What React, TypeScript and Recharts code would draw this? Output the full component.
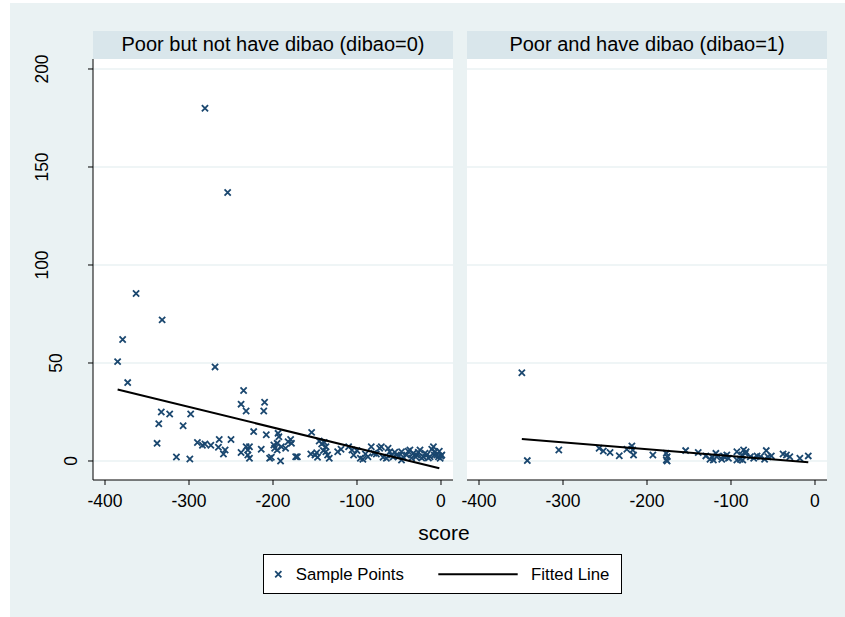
import { ScatterChart, Scatter, XAxis, YAxis, CartesianGrid } from "recharts";

const FONT = '"Liberation Sans", Arial, Helvetica, sans-serif';
const NAVY = "#1a476f";
const BG = "#eaf2f3";
const STRIP = "#d9e6eb";

const panelTitles = ["Poor but not have dibao (dibao=0)", "Poor and have dibao (dibao=1)"];
const legendLabels = ["Sample Points", "Fitted Line"];
const xTitle = "score";

const xTicks = [-400, -300, -200, -100, 0];
const yTicks = [0, 50, 100, 150, 200];
const xDomain = [-414.3, 14.3];
const yDomain = [-9.7, 205.1];

// dibao = 0
const leftScore = [
  -281, -254, -363, -332, -379, -385, -373, -269, -235, -238, -232, -210, -211,
  -333, -323, -298, -336, -307, -223, -208, -338, -315, -299, -290, -284, -281,
  -274, -264, -265, -257, -259, -250, -238, -232, -230, -228, -230, -228, -214,
  -204, -202, -191, -194, -193, -195, -199, -198, -195, -190, -185, -182, -179,
  -178, -173, -171, -154, -155, -150, -147, -148, -145, -142, -139, -137, -140,
  -137, -135, -133, -123, -119, -110, -106, -104, -100, -96, -93, -90, -87, -83,
  -80, -77, -73, -71, -69, -65, -63, -61, -59, -57, -55, -53, -50, -47, -47, -45,
  -41, -39, -37, -35, -33, -30, -29, -27, -25, -23, -21, -19, -17, -15, -13, -11,
  -9, -8, -7, -5, -3, -2, -1, 1, 0,
];
const leftOutcome = [
  180, 137, 85.5, 72, 62, 50.7, 40, 48, 36, 29, 25.5, 30, 25.5,
  25, 24, 24, 19, 18, 15, 13.4, 9, 2, 1, 9.4, 8, 8.7,
  8, 11, 7, 5.6, 3.6, 11, 4.3, 7.3, 5.6, 7.3, 3.1, 1.4, 6,
  1.4, 1.9, 0, 14.1, 12.4, 9, 8.2, 6.5, 5.6, 7.3, 6.5, 9.8, 11,
  9, 2.2, 2.2, 14.6, 3.6, 3, 1.9, 4.2, 10.2, 8.7, 9.5, 7.3, 5.3,
  4.7, 3.1, 1.4, 4.7, 6, 7.3, 5.6, 3.1, 5.3, 1.4, 0.9, 3.6, 2.2, 7.3,
  4, 3.6, 6.5, 7.3, 1.9, 1.4, 6.5, 4.7, 3.1, 2, 4.5, 3.1, 2.5, 0.5, 4.7, 2,
  3.1, 5, 5.6, 1.5, 3.9, 2, 3.1, 4.5, 5.6, 1.5, 2.2, 4, 3.1, 1.5, 2.2, 6,
  7.3, 3, 4.7, 3.1, 2.2, 5, 1.4, 3.1, 2.5,
];
const leftFitScore = [-385, -2];
const leftFitValue = [36.5, -3.7];

// dibao = 1
const rightScore = [
  -349, -342.5, -305, -257, -252, -244, -233, -224, -218, -217, -216, -193,
  -177, -176, -177, -176, -154, -139, -130, -125, -121, -118, -117, -122,
  -111, -109, -105, -103, -107, -93, -93, -89, -87, -85, -83, -82, -86,
  -77, -73, -69, -65, -60, -58, -56, -52, -38, -34, -30, -18, -8,
];
const rightOutcome = [
  45, 0.2, 5.6, 6.5, 5.1, 4.3, 2.7, 6, 7.7, 5.6, 3, 3.1,
  3.9, 2.2, 0.5, 0, 5.3, 4.3, 2.6, 0.9, 0.5, 3.9, 2.2, 1.9,
  0.9, 2.6, 3.1, 1.4, 1.9, 4.7, 0.5, 0.9, 3.1, 5.6, 3.9, 4.7, 0.5,
  2.2, 1.4, 2.6, 2.2, 0.9, 5.3, 2.2, 2.6, 3.6, 3.1, 2.2, 1.4, 2.6,
];
const rightFitScore = [-349, -8];
const rightFitValue = [11.2, -0.7];

const toPoints = (xs: number[], ys: number[]) => xs.map((score, i) => ({ score, value: ys[i] }));

function Cross(props: any) {
  const { cx, cy } = props;
  if (cx == null || cy == null) return <g />;
  const r = 3.1;
  return (
    <path
      d={`M${cx - r},${cy - r}L${cx + r},${cy + r}M${cx - r},${cy + r}L${cx + r},${cy - r}`}
      stroke={NAVY}
      strokeWidth={1.8}
      fill="none"
    />
  );
}

// Stata puts the vertical labels a little off, shorter labels sit closer to the axis
function YTick(props: any) {
  const { x, y, payload } = props;
  const label = String(payload.value);
  const cx = x - 15 - (label.length - 1) * 14.5;
  return (
    <text
      x={cx}
      y={y}
      transform={`rotate(-90 ${cx} ${y})`}
      textAnchor="middle"
      dominantBaseline="central"
      fontSize={17.5}
      fontFamily={FONT}
      fill="#000"
    >
      {label}
    </text>
  );
}

function Panel({ points, fit, showY, width, margin }: any) {
  return (
    <ScatterChart width={width} height={480} margin={margin} style={{ overflow: "visible" }}>
      <CartesianGrid
        vertical={false}
        horizontalValues={yTicks}
        stroke={BG}
        strokeWidth={1.5}
        fill="#ffffff"
        fillOpacity={1}
      />
      <XAxis
        type="number"
        dataKey="score"
        domain={xDomain}
        ticks={xTicks}
        allowDataOverflow
        stroke="#000"
        tickSize={5}
        tickMargin={10}
        height={39}
        tick={{ fill: "#000", fontSize: 17.5, fontFamily: FONT }}
      />
      <YAxis
        type="number"
        dataKey="value"
        domain={yDomain}
        ticks={yTicks}
        allowDataOverflow
        hide={!showY}
        width={93}
        stroke="#000"
        tickSize={5}
        tick={<YTick />}
      />
      <Scatter data={points} shape={<Cross />} isAnimationActive={false} />
      <Scatter
        data={fit}
        shape={() => <g />}
        line={{ stroke: "#000", strokeWidth: 2 }}
        lineType="joint"
        isAnimationActive={false}
      />
    </ScatterChart>
  );
}

function Strip({ left, title }: { left: number; title: string }) {
  return (
    <div
      style={{
        position: "absolute",
        left,
        top: 31,
        width: 360,
        height: 28,
        background: STRIP,
        textAlign: "center",
        fontFamily: FONT,
        fontSize: 20,
        lineHeight: "26px",
        color: "#000",
      }}
    >
      {title}
    </div>
  );
}

export default function App() {
  const leftPoints = toPoints(leftScore, leftOutcome);
  const rightPoints = toPoints(rightScore, rightOutcome);
  const leftFit = toPoints(leftFitScore, leftFitValue);
  const rightFit = toPoints(rightFitScore, rightFitValue);

  return (
    <div style={{ position: "absolute", left: 0, top: 0, width: 845, height: 617, background: "#fff", overflow: "hidden" }}>
      <div style={{ position: "absolute", left: 10, top: 3, width: 835, height: 614, background: BG }} />
      <Strip left={93} title={panelTitles[0]} />
      <Strip left={467} title={panelTitles[1]} />
      <div style={{ position: "absolute", left: 0, top: 39 }}>
        <Panel points={leftPoints} fit={leftFit} showY width={473} margin={{ top: 20, right: 20, bottom: 0, left: 0 }} />
      </div>
      <div style={{ position: "absolute", left: 447, top: 39 }}>
        <Panel points={rightPoints} fit={rightFit} showY={false} width={400} margin={{ top: 20, right: 20, bottom: 0, left: 20 }} />
      </div>
      <Strip left={93} title={panelTitles[0]} />
      <Strip left={467} title={panelTitles[1]} />
      <div
        style={{
          position: "absolute",
          left: 344,
          top: 521,
          width: 200,
          textAlign: "center",
          fontFamily: FONT,
          fontSize: 21,
          lineHeight: "24px",
          color: "#000",
        }}
      >
        {xTitle}
      </div>
      <svg
        width={359}
        height={40}
        style={{ position: "absolute", left: 263, top: 554, background: "#fff", outline: "1px solid #000", outlineOffset: -1 }}
      >
        <Cross cx={15.3} cy={20.3} />
        <text x={32.7} y={26} fontSize={16.8} fontFamily={FONT} fill="#000">
          {legendLabels[0]}
        </text>
        <line x1={175.3} x2={254.7} y1={20.3} y2={20.3} stroke="#000" strokeWidth={2} />
        <text x={268} y={26} fontSize={16.8} fontFamily={FONT} fill="#000">
          {legendLabels[1]}
        </text>
      </svg>
    </div>
  );
}
